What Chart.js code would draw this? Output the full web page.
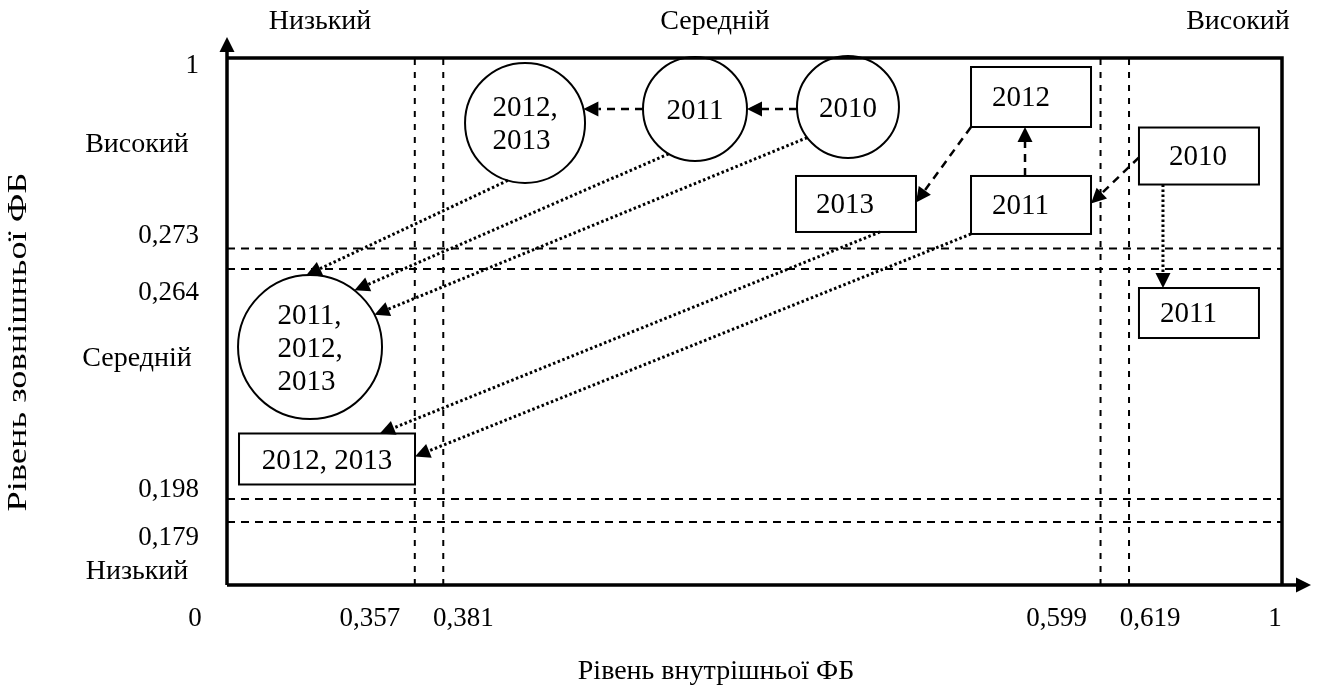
<!DOCTYPE html>
<html>
<head>
<meta charset="utf-8">
<script src="https://cdn.jsdelivr.net/npm/chart.js@4.4.0/dist/chart.umd.min.js"></script>
<style>
  html, body { margin: 0; padding: 0; background: #fff; }
</style>
</head>
<body>
<canvas id="chart" width="1319" height="690"></canvas>
<script>
// рівні та порогові значення
const levelNames = ['Низький', 'Середній', 'Високий'];
const xThresholds = [0.357, 0.381, 0.599, 0.619];
const yThresholds = [0.179, 0.198, 0.264, 0.273];
const xTickLabels = ['0', '0,357', '0,381', '0,599', '0,619', '1'];
const yTickLabels = ['0', '0,179', '0,198', '0,264', '0,273', '1'];
const xTitle = 'Рівень внутрішньої ФБ';
const yTitle = 'Рівень зовнішньої ФБ';

// роки у вузлах схеми
const circleYears = [['2012,', '2013'], ['2011'], ['2010'], ['2011,', '2012,', '2013']];
const boxYears = ['2012', '2011', '2013', '2010', '2011', '2012, 2013'];

// переходи: звідки, точка виходу, куди, точка входу, вид лінії
const transitions = [
  ['c3', [-1, 0.04], 'c2', [1, 0], 'dash'],
  ['c2', [-1, 0], 'c1', [1, -0.24], 'dash'],
  ['b1', [-1, 1], 'b3', [1, -0.05], 'dash'],
  ['b2', [-0.1, -1], 'b1', [-0.1, 1], 'dash'],
  ['b4', [-1, 0.05], 'b2', [1, -0.05], 'dash'],
  ['b4', [-0.6, 1], 'b5', [-0.6, -1], 'dot'],
  ['c1', [-0.3, 1], 'c4', [-0.05, -1], 'dot'],
  ['c2', [-0.5, 0.85], 'c4', [0.62, -0.79], 'dot'],
  ['c3', [-0.8, 0.6], 'c4', [0.9, -0.45], 'dot'],
  ['b3', [0.4, 1], 'b6', [0.6, -1], 'dot'],
  ['b2', [-1, 1], 'b6', [1, -0.1], 'dot']
];

// схема не в масштабі: пороги розставлені вручну (частки осі)
const xPlaces = [0, 0.178, 0.205, 0.828, 0.855, 1];
const yPlaces = [0, 0.1195, 0.1632, 0.5996, 0.6385, 1];
const xBreaks = [0, ...xThresholds, 1];
const yBreaks = [0, ...yThresholds, 1];

function place(v, breaks, places) {
  for (let i = 1; i < breaks.length; i++) {
    if (v <= breaks[i]) {
      const t = (v - breaks[i-1]) / (breaks[i] - breaks[i-1]);
      return places[i-1] + t * (places[i] - places[i-1]);
    }
  }
  return 1;
}
const px = v => place(v, xBreaks, xPlaces);
const py = v => place(v, yBreaks, yPlaces);

// розміщення вузлів на схемі (частки області графіка, розміри в px)
const nodes = {
  c1: { shape: 'circle', x: 0.2825, y: 0.8767, r: 60, text: circleYears[0] },
  c2: { shape: 'circle', x: 0.4436, y: 0.9032, r: 52, text: circleYears[1] },
  c3: { shape: 'circle', x: 0.5886, y: 0.9070, r: 51, text: circleYears[2] },
  c4: { shape: 'circle', x: 0.0787, y: 0.4516, r: 72, text: circleYears[3] },
  b1: { shape: 'box', x: 0.7621, y: 0.9260, w: 120, h: 60, text: boxYears[0], pad: 21 },
  b2: { shape: 'box', x: 0.7621, y: 0.7211, w: 120, h: 58, text: boxYears[1], pad: 21 },
  b3: { shape: 'box', x: 0.5962, y: 0.7230, w: 120, h: 56, text: boxYears[2], pad: 20 },
  b4: { shape: 'box', x: 0.9213, y: 0.8140, w: 120, h: 57, text: boxYears[3], pad: 30 },
  b5: { shape: 'box', x: 0.9213, y: 0.5161, w: 120, h: 50, text: boxYears[4], pad: 21 },
  b6: { shape: 'box', x: 0.0948, y: 0.2391, w: 176, h: 51, text: boxYears[5], pad: null }
};

const FONT = '"Liberation Serif", "Times New Roman", serif';
const circleKeys = Object.keys(nodes).filter(k => nodes[k].shape === 'circle');

const datasets = [];
datasets.push({
  type: 'scatter',
  data: circleKeys.map(k => ({ x: nodes[k].x, y: nodes[k].y })),
  pointRadius: circleKeys.map(k => nodes[k].r),
  pointBackgroundColor: '#fff',
  pointBorderColor: '#000',
  pointBorderWidth: 2,
  clip: false
});
xThresholds.forEach(v => datasets.push({
  type: 'line',
  data: [{ x: px(v), y: 0 }, { x: px(v), y: 1 }],
  borderColor: '#000', borderWidth: 2, borderDash: [6, 7],
  pointRadius: 0, clip: false
}));
yThresholds.forEach(v => datasets.push({
  type: 'line',
  data: [{ x: 0, y: py(v) }, { x: 1, y: py(v) }],
  borderColor: '#000', borderWidth: 2, borderDash: [8, 6],
  pointRadius: 0, clip: false
}));

function arrowHead(ctx, tip, ang, L, W) {
  const bx = tip.x - L * Math.cos(ang), by = tip.y - L * Math.sin(ang);
  ctx.beginPath();
  ctx.moveTo(tip.x, tip.y);
  ctx.lineTo(bx + W * Math.sin(ang), by - W * Math.cos(ang));
  ctx.lineTo(bx - W * Math.sin(ang), by + W * Math.cos(ang));
  ctx.closePath();
  ctx.fill();
}

const schemePlugin = {
  id: 'scheme',
  afterDatasetsDraw(chart) {
    const { ctx, chartArea: a, scales: { x, y } } = chart;
    const X = v => x.getPixelForValue(v), Y = v => y.getPixelForValue(v);
    ctx.save();
    ctx.fillStyle = '#000';
    ctx.strokeStyle = '#000';

    // рамка та осі
    ctx.lineWidth = 3.5;
    ctx.beginPath();
    ctx.moveTo(a.left, a.bottom); ctx.lineTo(a.left, a.top - 8);
    ctx.moveTo(a.left, a.top); ctx.lineTo(a.right, a.top); ctx.lineTo(a.right, a.bottom);
    ctx.moveTo(a.left, a.bottom); ctx.lineTo(a.right + 16, a.bottom);
    ctx.stroke();
    arrowHead(ctx, { x: a.left, y: a.top - 21 }, -Math.PI / 2, 15, 7.5);
    arrowHead(ctx, { x: a.right + 29, y: a.bottom }, 0, 15, 7.5);

    // прямокутники
    ctx.lineWidth = 2;
    Object.values(nodes).filter(n => n.shape === 'box').forEach(n => {
      ctx.fillStyle = '#fff';
      ctx.fillRect(X(n.x) - n.w / 2, Y(n.y) - n.h / 2, n.w, n.h);
      ctx.strokeRect(X(n.x) - n.w / 2, Y(n.y) - n.h / 2, n.w, n.h);
    });
    ctx.fillStyle = '#000';

    // переходи
    const anchor = (n, d) => {
      const cx = X(n.x), cy = Y(n.y);
      if (n.shape === 'circle') {
        const l = Math.hypot(d[0], d[1]);
        return { x: cx + n.r * d[0] / l, y: cy + n.r * d[1] / l };
      }
      return { x: cx + d[0] * n.w / 2, y: cy + d[1] * n.h / 2 };
    };
    transitions.forEach(([from, fa, to, ta, kind]) => {
      const p0 = anchor(nodes[from], fa), p1 = anchor(nodes[to], ta);
      const ang = Math.atan2(p1.y - p0.y, p1.x - p0.x);
      const L = 15;
      ctx.lineWidth = kind === 'dash' ? 2.5 : 3;
      ctx.setLineDash(kind === 'dash' ? [8, 6] : [2.5, 2.5]);
      ctx.beginPath();
      ctx.moveTo(p0.x, p0.y);
      ctx.lineTo(p1.x - L * Math.cos(ang), p1.y - L * Math.sin(ang));
      ctx.stroke();
      ctx.setLineDash([]);
      arrowHead(ctx, p1, ang, L, 7.5);
    });

    // підписи у вузлах
    ctx.font = '29px ' + FONT;
    ctx.textBaseline = 'middle';
    Object.values(nodes).forEach(n => {
      const cx = X(n.x), cy = Y(n.y);
      if (n.shape === 'circle') {
        const lines = n.text;
        const w = Math.max(...lines.map(t => ctx.measureText(t).width));
        ctx.textAlign = 'left';
        lines.forEach((t, i) => ctx.fillText(t, cx - w / 2, cy + 2 + (i - (lines.length - 1) / 2) * 33));
      } else if (n.pad == null) {
        ctx.textAlign = 'center';
        ctx.fillText(n.text, cx, cy + 2);
      } else {
        ctx.textAlign = 'left';
        ctx.fillText(n.text, cx - n.w / 2 + n.pad, cy + 1);
      }
    });

    // позначки осей
    ctx.font = '27px ' + FONT;
    ctx.textAlign = 'center';
    const xOff = [-32, -45, 20, -44, 21, -7];
    [0, ...xThresholds, 1].forEach((v, i) => {
      ctx.fillText(xTickLabels[i], X(px(v)) + xOff[i], a.bottom + 34);
    });
    ctx.textAlign = 'right';
    const yOff = [null, 16, -9, 24, -13, 8];
    [0, ...yThresholds, 1].forEach((v, i) => {
      if (yOff[i] == null) return;
      ctx.fillText(yTickLabels[i], a.left - 28, Y(py(v)) + yOff[i]);
    });

    // назви рівнів
    ctx.font = '28px ' + FONT;
    ctx.textAlign = 'center';
    const topX = [320, 715, 1238];
    levelNames.forEach((t, i) => ctx.fillText(t, topX[i], 22));
    const leftY = [572, 359, 145];
    levelNames.forEach((t, i) => ctx.fillText(t, 137, leftY[i]));

    // назви осей
    ctx.fillText(xTitle, 716, 672);
    ctx.translate(19, 342);
    ctx.rotate(-Math.PI / 2);
    ctx.scale(1.3, 1);
    ctx.fillText(yTitle, 0, 0);
    ctx.restore();
  }
};

new Chart(document.getElementById('chart'), {
  type: 'scatter',
  data: { datasets },
  options: {
    responsive: false,
    animation: false,
    events: [],
    layout: { autoPadding: false, padding: { left: 227, right: 37, top: 58, bottom: 105 } },
    plugins: { legend: { display: false }, tooltip: { enabled: false } },
    scales: {
      x: { type: 'linear', min: 0, max: 1, display: false },
      y: { type: 'linear', min: 0, max: 1, display: false }
    }
  },
  plugins: [schemePlugin]
});
</script>
</body>
</html>
